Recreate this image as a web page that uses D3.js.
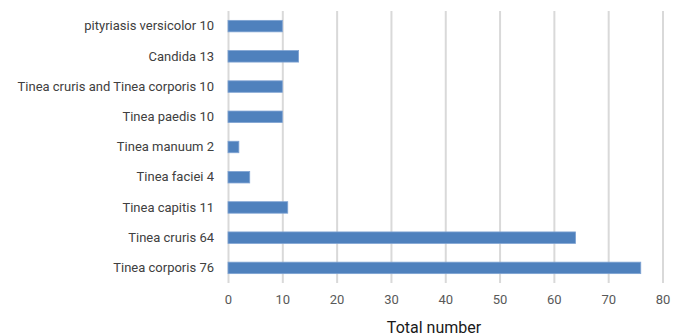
<!DOCTYPE html>
<html><head><meta charset="utf-8">
<script src="https://cdn.jsdelivr.net/npm/d3@7"></script>
<style>body{margin:0;background:#fff}svg{display:block}</style>
</head><body><svg id="c" width="684" height="336"></svg>
<script>
const categories = ["pityriasis versicolor 10","Candida 13","Tinea cruris and Tinea corporis 10","Tinea paedis 10","Tinea manuum 2","Tinea faciei 4","Tinea capitis 11","Tinea cruris 64","Tinea corporis 76"];
const values = [10,13,10,10,2,4,11,64,76];
const xTicks = [0,10,20,30,40,50,60,70,80];
const xTitle = "Total number";

const svg = d3.select("#c");
const x = d3.scaleLinear().domain([0,80]).range([228,662.5]);
const y = d3.scaleBand().domain(categories).range([11,283]).paddingInner(0.62).paddingOuter(0.31);
const font = "Roboto, 'Noto Sans', sans-serif";

const g = svg.append("g").attr("transform","translate(0,283)");
const xAxis = d3.axisBottom(x).tickValues(xTicks).tickSize(-272).tickPadding(12);
g.call(xAxis);
g.select(".domain").remove();
g.selectAll(".tick line").attr("stroke","#d9d9d9").attr("stroke-width",2);
g.selectAll(".tick text").attr("fill","#595959").style("font-family",font).style("font-size","13px");

svg.append("g").selectAll("rect").data(values).join("rect")
  .attr("x", x(0)).attr("y",(d,i)=>y(categories[i]))
  .attr("width", d=>x(d)-x(0)).attr("height", y.bandwidth())
  .attr("fill","#4f81bd").attr("stroke","#7fa3d3").attr("stroke-width",0.8);

const ya = svg.append("g").attr("transform","translate(228,0)");
ya.call(d3.axisLeft(y).tickSize(0).tickPadding(14));
ya.select(".domain").remove();
ya.selectAll(".tick text").attr("fill","#404040").style("font-family",font).style("font-size","13px");

svg.append("text").attr("x",434).attr("y",333).attr("text-anchor","middle")
  .attr("fill","#1a1a1a").style("font-family",font).style("font-size","16px").text(xTitle);
</script></body></html>
